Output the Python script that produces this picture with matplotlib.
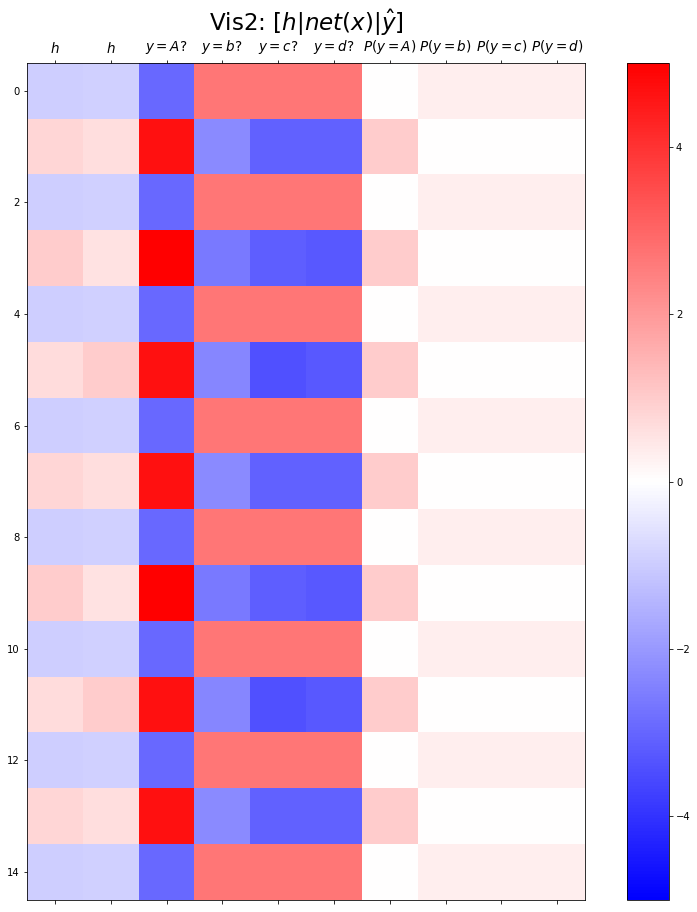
import numpy as np
import matplotlib
matplotlib.use('Agg')
import matplotlib.pyplot as plt

# column labels
col_labels = ['$h$', '$h$', '$y=A?$', '$y=b?$', '$y=c?$', '$y=d?$',
              '$P(y=A)$', '$P(y=b)$', '$P(y=c)$', '$P(y=d)$']

# row patterns
row_even = [-0.95, -0.9, -2.95, 2.67, 2.67, 2.67, 0.0, 0.33, 0.33, 0.33]
row_b = [0.8, 0.65, 4.67, -2.3, -3.08, -3.08, 1.0, 0.0, 0.0, 0.0]
row_c = [1.0, 0.55, 5.0, -2.6, -3.15, -3.25, 1.0, 0.0, 0.0, 0.0]
row_d = [0.7, 1.0, 4.67, -2.35, -3.4, -3.25, 1.0, 0.0, 0.0, 0.0]

rows = [row_even, row_b, row_even, row_c, row_even, row_d, row_even, row_b,
        row_even, row_c, row_even, row_d, row_even, row_b, row_even]
data = np.array(rows)

fig = plt.figure(figsize=(697 / 72, 912 / 72), dpi=72)
ax = fig.add_axes([27 / 697, 12 / 912, 558 / 697, 837 / 912])
im = ax.imshow(data, cmap='bwr', vmin=-5, vmax=5)

ax.set_xticks(np.arange(len(col_labels)))
ax.set_xticklabels(col_labels, fontsize=13.5)
ax.tick_params(axis='x', top=True, labeltop=True, bottom=True, labelbottom=False)
ax.set_yticks(np.arange(0, 15, 2))
ax.set_title(r'Vis2: $[h|net(x)|\hat{y}]$', fontsize=23, pad=6)

cax = fig.add_axes([627 / 697, 12 / 912, 42 / 697, 837 / 912])
cb = fig.colorbar(im, cax=cax)
cb.set_ticks([-4, -2, 0, 2, 4])

fig.savefig('out.png', dpi=72)
